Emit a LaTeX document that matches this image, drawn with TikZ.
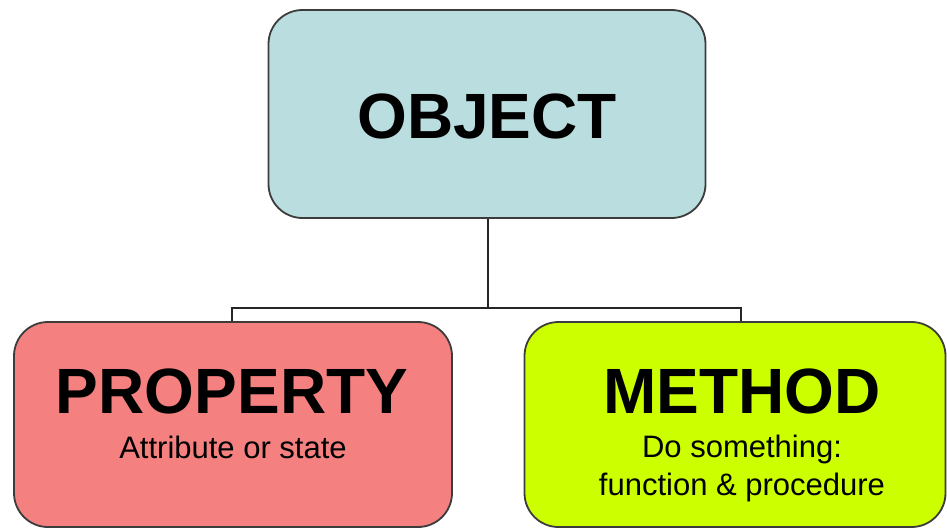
\documentclass[tikz,border=0pt]{standalone}
\usepackage{fontspec}
\setmainfont{Liberation Sans}
\definecolor{objfill}{RGB}{186,222,224}
\definecolor{propfill}{RGB}{244,128,128}
\definecolor{methfill}{RGB}{204,255,0}
\definecolor{edge}{RGB}{60,60,60}
\begin{document}
\begin{tikzpicture}[x=1pt,y=-1pt,
  box/.style={draw=edge,line width=1.8pt,rounded corners=34pt,inner sep=0pt},
  big/.style={font=\fontsize{64}{70}\selectfont\bfseries,inner sep=0pt,anchor=base},
  small/.style={font=\fontsize{31}{38}\selectfont,inner sep=0pt,align=center,anchor=base},
  wire/.style={draw=black!85,line width=1.6pt}]
\useasboundingbox[fill=white] (0,0) rectangle (947,530);
\node[box,fill=objfill,minimum width=437pt,minimum height=208pt] (obj) at (487,114) {};
\node[box,fill=propfill,minimum width=438pt,minimum height=205pt] (prop) at (233,424.5) {};
\node[box,fill=methfill,minimum width=421pt,minimum height=205pt] (meth) at (735,424.5) {};
\node[big] (objt) at (487,138) {OBJECT};
\node[big] (propt) at (232,413) {PROPERTY};
\node[small] (props) at (233,458) {Attribute or state};
\node[big] (metht) at (742,413) {METHOD};
\node[small] (meths) at (742,495) {Do something:\\function \& procedure};
\coordinate (bus) at (488,308);
\draw[wire] (obj.south -| bus) -- (bus);
\draw[wire] ([xshift=-1pt]prop.north) |- (bus) -| ([xshift=6pt]meth.north);
\end{tikzpicture}
\end{document}
